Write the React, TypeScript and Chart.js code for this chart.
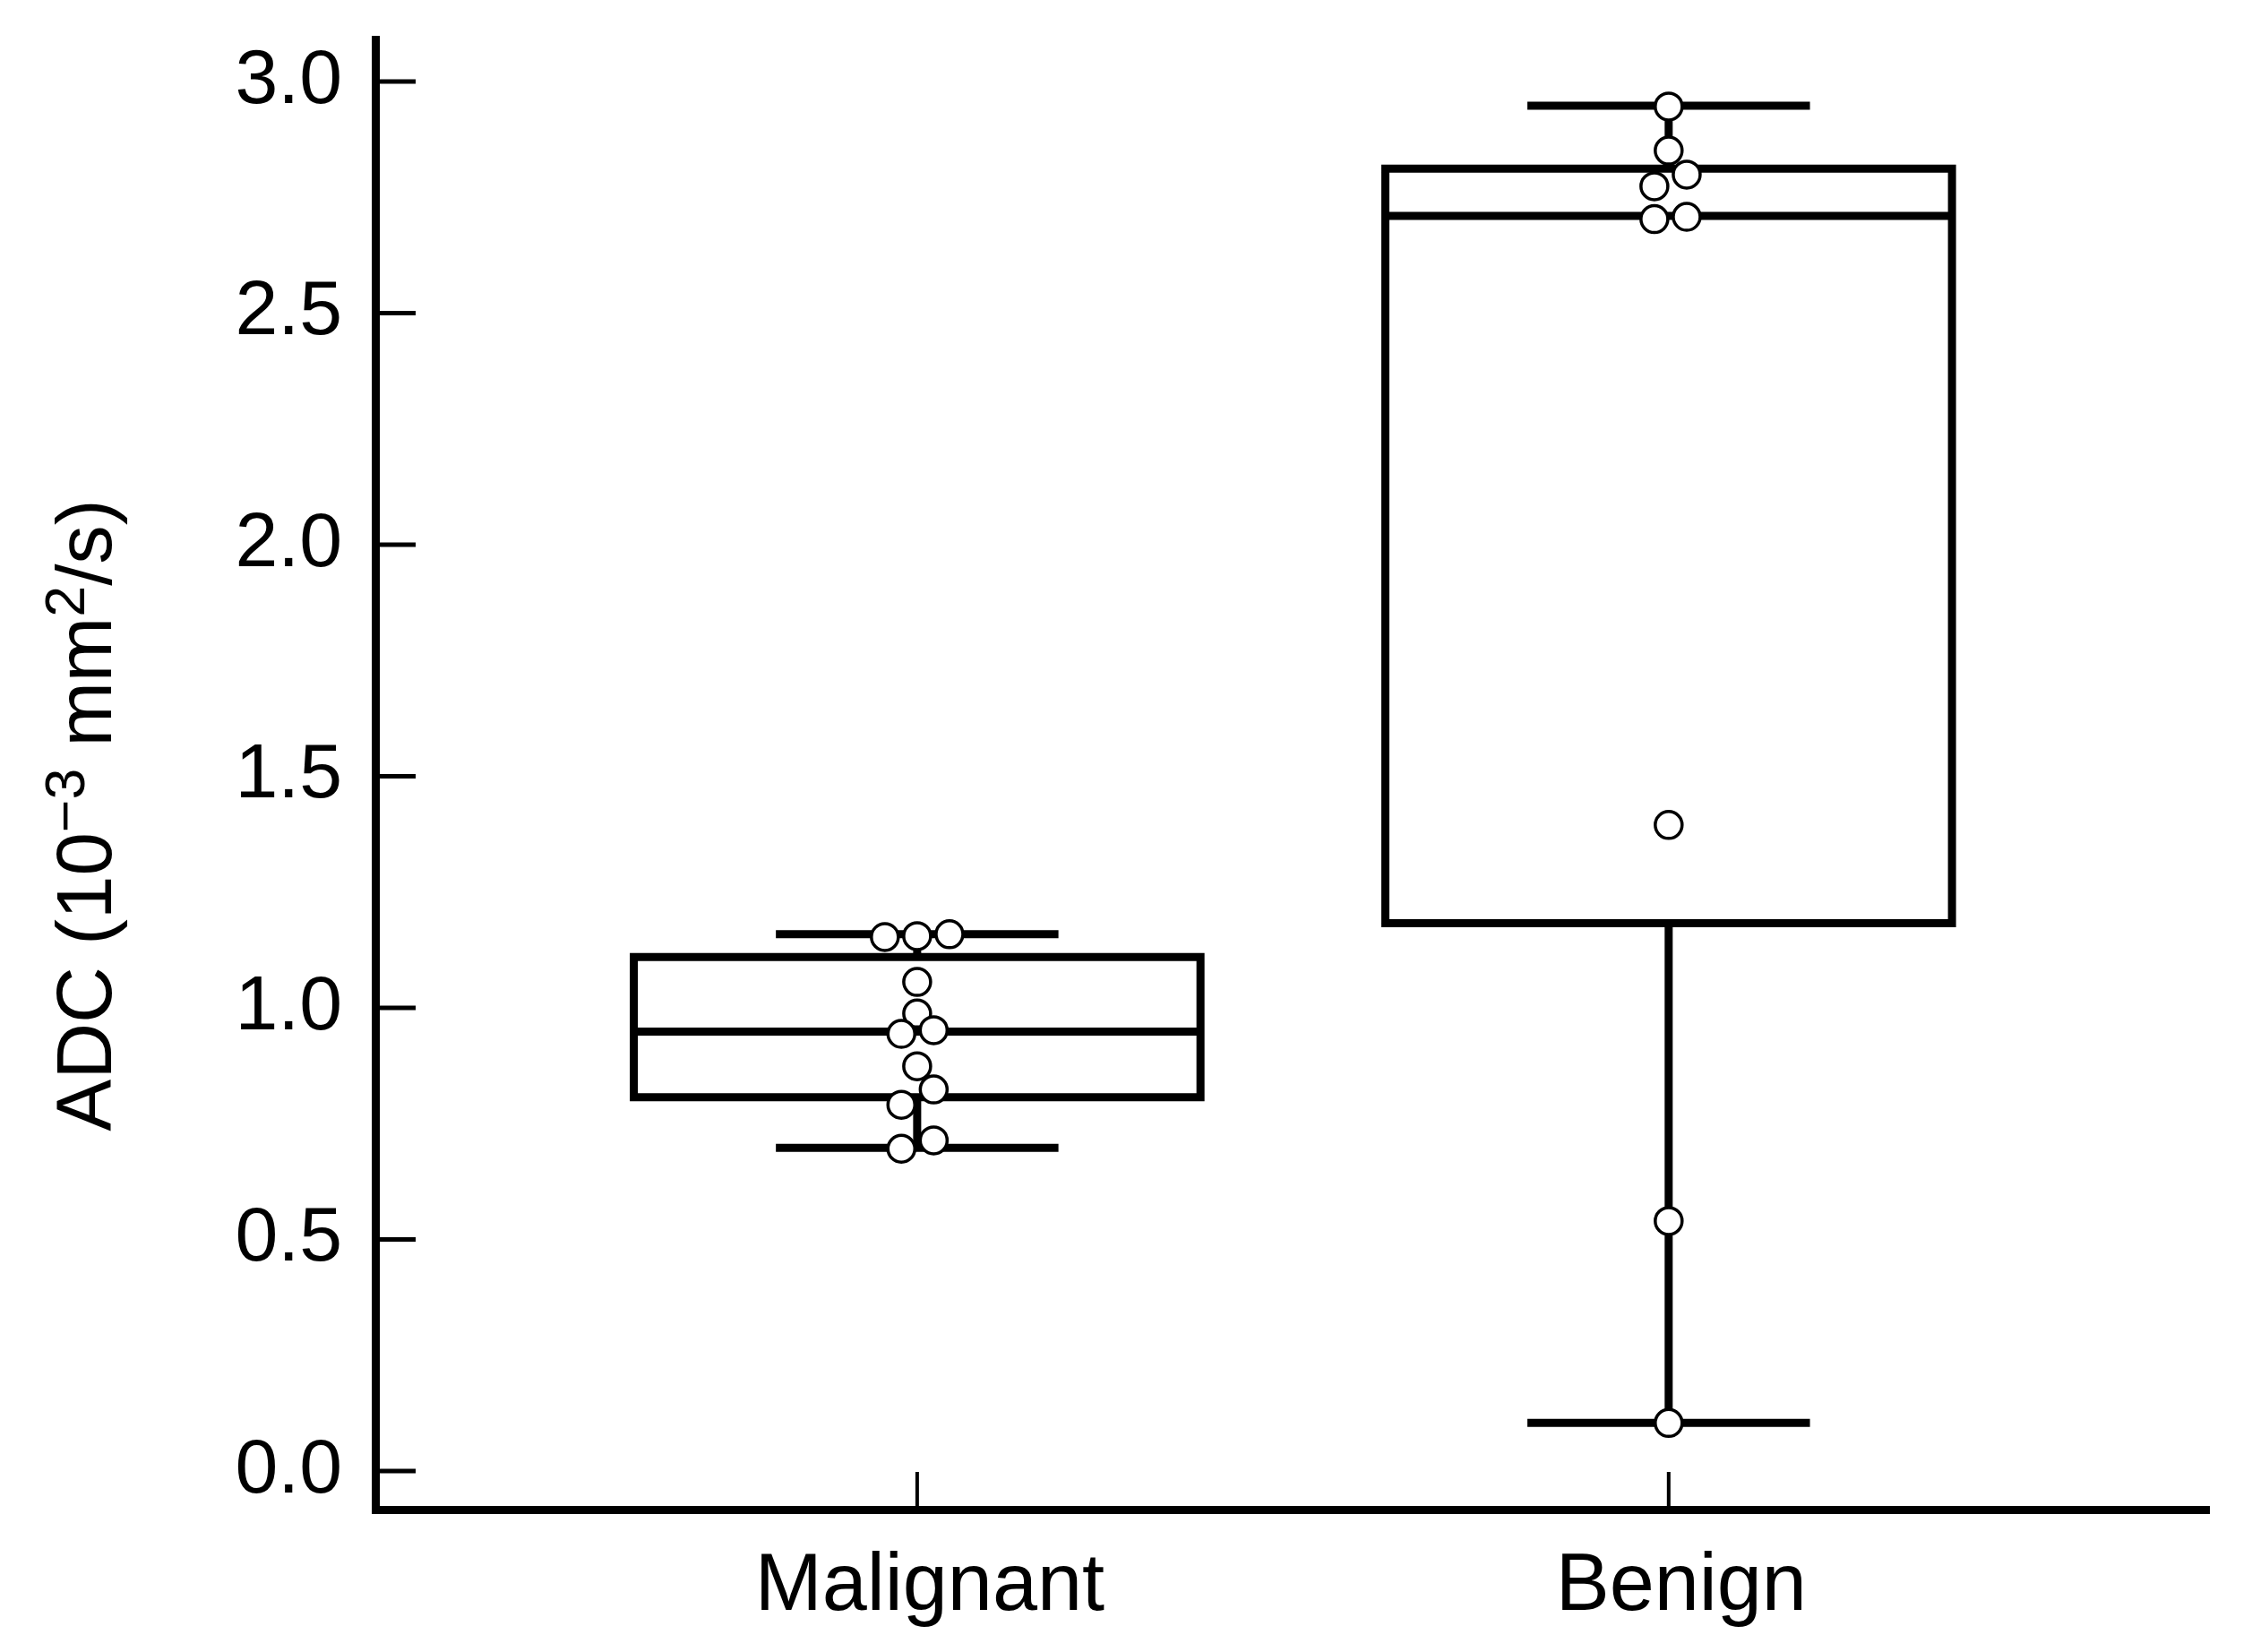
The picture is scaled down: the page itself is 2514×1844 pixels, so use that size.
import React, { useEffect, useRef } from 'react';
import { Chart, registerables } from 'chart.js';

Chart.register(...registerables);

// ---- Data ----
const categories = ['Malignant', 'Benign'];
const categoryPositions = [1, 2];
const yTickValues = [0, 0.5, 1.0, 1.5, 2.0, 2.5, 3.0];

// Box statistics: [lower whisker, Q1, median, Q3, upper whisker]
const malignantBox = [0.698, 0.807, 0.949, 1.110, 1.159];
const benignBox = [0.104, 1.183, 2.710, 2.812, 2.948];

// Individual observations (beeswarm offsets in category units)
const malignantValues = [1.153, 1.155, 1.159, 1.056, 0.988, 0.944, 0.952, 0.874, 0.824, 0.791, 0.696, 0.714];
const malignantJitter = [-0.043, 0, 0.043, 0, 0, -0.021, 0.022, 0, 0.022, -0.021, -0.021, 0.022];
const benignValues = [2.946, 2.851, 2.799, 2.774, 2.703, 2.708, 1.395, 0.540, 0.104];
const benignJitter = [0, 0, 0.024, -0.019, -0.019, 0.024, 0, 0, 0];

// Axis title parts (text, superscript?)
const yTitleParts: [string, boolean][] = [
  ['ADC (10', false],
  ['\u22123', true],
  [' mm', false],
  ['2', true],
  ['/s)', false],
];

// ---- Style constants ----
const FONT = '"Liberation Sans", Arial, Helvetica, sans-serif';
const BOX_HALF = 0.377;
const CAP_HALF = 0.188;
const LINE_W = 9;

function segment(points: { x: number; y: number }[]) {
  return {
    type: 'scatter' as const,
    data: points,
    showLine: true,
    borderColor: '#000',
    borderWidth: LINE_W,
    pointRadius: 0,
    pointHoverRadius: 0,
    pointHitRadius: 0,
    borderCapStyle: 'butt',
    borderJoinStyle: 'miter',
    tension: 0,
    fill: false,
    order: 2,
    clip: false,
  };
}

function boxDatasets(c: number, stats: number[]) {
  const [lo, q1, med, q3, hi] = stats;
  return [
    segment([
      { x: c - BOX_HALF, y: q1 },
      { x: c + BOX_HALF, y: q1 },
      { x: c + BOX_HALF, y: q3 },
      { x: c - BOX_HALF, y: q3 },
      { x: c - BOX_HALF, y: q1 },
      { x: c + BOX_HALF, y: q1 },
    ]),
    segment([
      { x: c - BOX_HALF, y: med },
      { x: c + BOX_HALF, y: med },
    ]),
    segment([
      { x: c, y: q3 },
      { x: c, y: hi },
    ]),
    segment([
      { x: c, y: q1 },
      { x: c, y: lo },
    ]),
    segment([
      { x: c - CAP_HALF, y: hi },
      { x: c + CAP_HALF, y: hi },
    ]),
    segment([
      { x: c - CAP_HALF, y: lo },
      { x: c + CAP_HALF, y: lo },
    ]),
  ];
}

function pointDataset(c: number, values: number[], jitter: number[]) {
  return {
    type: 'scatter' as const,
    data: values.map((v, i) => ({ x: c + jitter[i], y: v })),
    showLine: false,
    pointRadius: 15,
    pointHoverRadius: 15,
    pointBorderWidth: 3.5,
    borderWidth: 3.5,
    pointBackgroundColor: '#fff',
    backgroundColor: '#fff',
    pointBorderColor: '#000',
    borderColor: '#000',
    order: 0,
    clip: false,
  };
}

const inwardTicks = {
  id: 'inwardTicks',
  beforeDatasetsDraw(chart: any) {
    const { ctx, chartArea, scales } = chart;
    const x = scales.x;
    const y = scales.y;
    ctx.save();
    ctx.strokeStyle = '#000';
    ctx.lineCap = 'butt';
    ctx.lineWidth = 5;
    y.ticks.forEach((t: any) => {
      const py = y.getPixelForValue(t.value);
      ctx.beginPath();
      ctx.moveTo(chartArea.left, py);
      ctx.lineTo(chartArea.left + 45, py);
      ctx.stroke();
    });
    ctx.lineWidth = 4;
    x.ticks.forEach((t: any) => {
      const px = x.getPixelForValue(t.value);
      ctx.beginPath();
      ctx.moveTo(px, chartArea.bottom);
      ctx.lineTo(px, chartArea.bottom - 42);
      ctx.stroke();
    });
    ctx.restore();
  },
};

const yTitlePlugin = {
  id: 'yTitle',
  afterDraw(chart: any) {
    const { ctx } = chart;
    const size = 87;
    const supSize = size * 0.72;
    ctx.save();
    ctx.fillStyle = '#000';
    ctx.textBaseline = 'alphabetic';
    ctx.textAlign = 'left';
    let total = 0;
    const widths = yTitleParts.map(([t, sup]) => {
      ctx.font = `${sup ? supSize : size}px ${FONT}`;
      const w = ctx.measureText(t).width;
      total += w;
      return w;
    });
    ctx.translate(124, 910);
    ctx.rotate(-Math.PI / 2);
    let cx = -total / 2;
    yTitleParts.forEach(([t, sup], i) => {
      ctx.font = `${sup ? supSize : size}px ${FONT}`;
      ctx.fillText(t, cx, sup ? -size * 0.34 : 0);
      cx += widths[i];
    });
    ctx.restore();
  },
};

export default function App() {
  const canvasRef = useRef<HTMLCanvasElement | null>(null);

  useEffect(() => {
    if (!canvasRef.current) return;
    const datasets: any[] = [
      pointDataset(categoryPositions[0], malignantValues, malignantJitter),
      pointDataset(categoryPositions[1], benignValues, benignJitter),
      ...boxDatasets(categoryPositions[0], malignantBox),
      ...boxDatasets(categoryPositions[1], benignBox),
    ];
    const chart = new Chart(canvasRef.current, {
      type: 'scatter',
      data: { datasets },
      options: {
        animation: false,
        responsive: false,
        devicePixelRatio: 1,
        events: [],
        layout: { padding: { top: 44, right: 48, left: 0, bottom: 0 } },
        plugins: {
          legend: { display: false },
          tooltip: { enabled: false },
        },
        scales: {
          x: {
            type: 'linear',
            min: 0.279,
            max: 2.719,
            afterBuildTicks: (s: any) => {
              s.ticks = categoryPositions.map((v) => ({ value: v }));
            },
            afterFit: (s: any) => {
              s.height = 159;
              s.paddingLeft = 0;
              s.paddingRight = 0;
            },
            ticks: {
              callback: (v: any) => {
                const i = categoryPositions.indexOf(Number(v));
                return i >= 0 ? categories[i] : '';
              },
              font: { family: FONT, size: 90 },
              color: '#000',
              padding: 33,
              labelOffset: 14,
              maxRotation: 0,
              autoSkip: false,
            },
            grid: { display: false, drawTicks: false },
            border: { display: true, color: '#000', width: LINE_W },
          },
          y: {
            type: 'linear',
            min: -0.083,
            max: 3.091,
            afterBuildTicks: (s: any) => {
              s.ticks = yTickValues.map((v) => ({ value: v }));
            },
            afterFit: (s: any) => {
              s.width = 419;
              s.paddingTop = 0;
              s.paddingBottom = 0;
            },
            ticks: {
              callback: (v: any) => Number(v).toFixed(1),
              font: { family: FONT, size: 86 },
              color: '#000',
              padding: 37,
            },
            grid: { display: false, drawTicks: false },
            border: { display: true, color: '#000', width: LINE_W },
          },
        },
      },
      plugins: [inwardTicks, yTitlePlugin],
    } as any);
    return () => chart.destroy();
  }, []);

  return (
    <div style={{ position: 'absolute', left: 0, top: 0, width: 2514, height: 1844, background: '#fff' }}>
      <canvas ref={canvasRef} width={2514} height={1844} style={{ display: 'block', width: 2514, height: 1844 }} />
    </div>
  );
}
